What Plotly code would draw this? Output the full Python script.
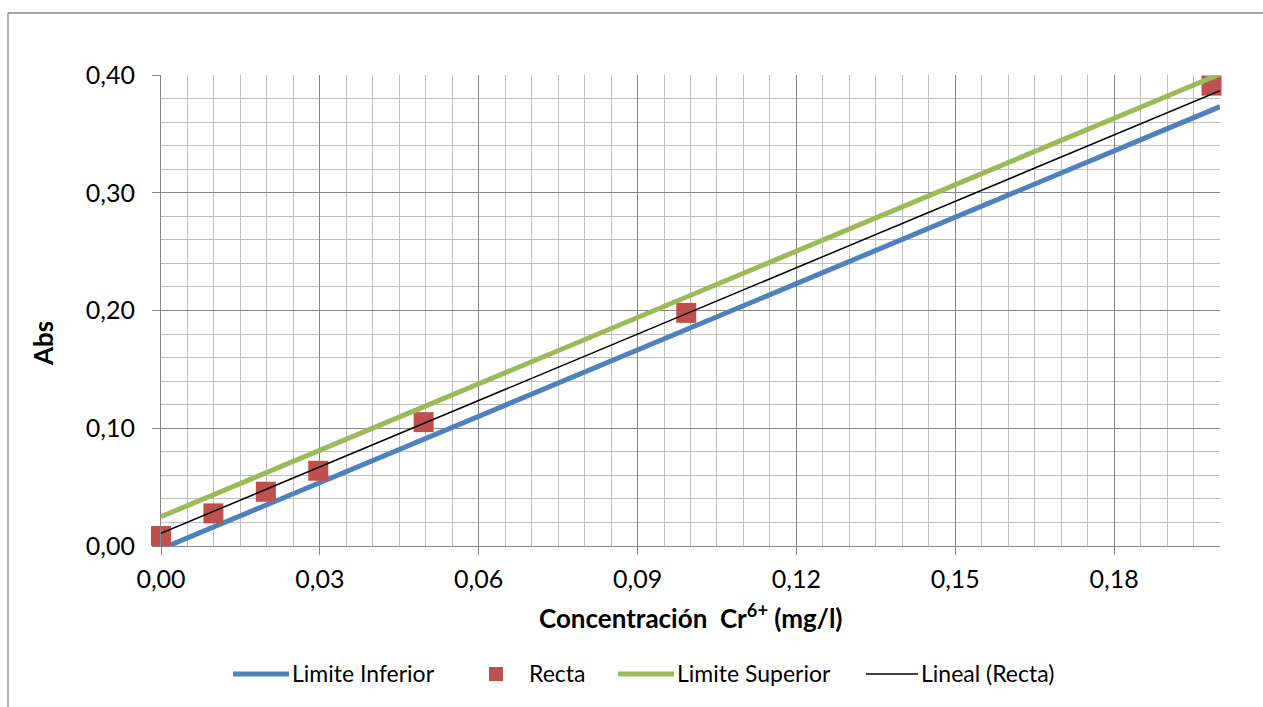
import plotly.graph_objects as go

# ---------------- data ----------------
conc = [0.0, 0.0099, 0.0198, 0.0297, 0.0496, 0.0992, 0.1984]
abs_recta = [0.0085, 0.0277, 0.0461, 0.0639, 0.1052, 0.1980, 0.3910]

limit_x = [0.0, 0.2]
lim_inf = [-0.0025, 0.3731]
lim_sup = [0.0249, 0.4008]

trend_x = [0.0, 0.2]
trend_y = [0.0108, 0.3867]

x_tick_vals = [0.00, 0.03, 0.06, 0.09, 0.12, 0.15, 0.18]
x_tick_text = ["0,00", "0,03", "0,06", "0,09", "0,12", "0,15", "0,18"]
y_tick_vals = [0.0, 0.1, 0.2, 0.3, 0.4]
y_tick_text = ["0,00", "0,10", "0,20", "0,30", "0,40"]

names = ["Limite Inferior", "Recta", "Limite Superior", "Lineal (Recta)"]

# ---------------- style ----------------
W, H = 1263, 707
ML, MR, MT, MB = 161, 43, 75, 161
PW, PH = W - ML - MR, H - MT - MB
BLUE, RED, GREEN, BLACK = "#4F81BD", "#C0504D", "#9BBB59", "#000000"
MAJOR, MINOR = "#878787", "#BFBFBF"
FONT = "Lato, Carlito, Calibri, 'Liberation Sans', sans-serif"


def px2x(px):
    return (px - ML) / PW


def px2y(py):
    return (H - MB - py) / PH


fig = go.Figure()
fig.add_trace(go.Scatter(x=limit_x, y=lim_inf, mode="lines", name=names[0],
                         line=dict(color=BLUE, width=5)))
fig.add_trace(go.Scatter(x=conc, y=abs_recta, mode="markers", name=names[1],
                         marker=dict(symbol="square", size=20, color=RED),
                         cliponaxis=False))
fig.add_trace(go.Scatter(x=limit_x, y=lim_sup, mode="lines", name=names[2],
                         line=dict(color=GREEN, width=5)))
fig.add_trace(go.Scatter(x=trend_x, y=trend_y, mode="lines", name=names[3],
                         line=dict(color=BLACK, width=1.5)))

axis_common = dict(
    showline=True, linecolor=MAJOR, linewidth=1,
    ticks="outside", ticklen=8, tickcolor=MAJOR, tickwidth=1,
    showgrid=True, gridcolor=MAJOR, gridwidth=1,
    zeroline=False, fixedrange=True,
    tickfont=dict(family=FONT, size=25, color="black"),
)

fig.update_xaxes(range=[0, 0.2], tickmode="array", tickvals=x_tick_vals,
                 ticktext=x_tick_text,
                 minor=dict(dtick=0.005, tick0=0, showgrid=True,
                            gridcolor=MINOR, gridwidth=1, ticks=""),
                 ticklabelstandoff=3, **axis_common)
fig.update_yaxes(range=[0, 0.4], tickmode="array", tickvals=y_tick_vals,
                 ticktext=y_tick_text,
                 minor=dict(dtick=0.02, tick0=0, showgrid=True,
                            gridcolor=MINOR, gridwidth=1, ticks=""),
                 ticklabelstandoff=12, **axis_common)

shapes = []
annotations = []

# outer chart border (left and top visible)
shapes.append(dict(type="line", xref="paper", yref="paper",
                   x0=px2x(8), y0=px2y(13), x1=px2x(1264), y1=px2y(13),
                   line=dict(color=MAJOR, width=1.3)))
shapes.append(dict(type="line", xref="paper", yref="paper",
                   x0=px2x(8), y0=px2y(13), x1=px2x(8), y1=px2y(708),
                   line=dict(color=MAJOR, width=1.3)))

# axis titles
annotations.append(dict(xref="paper", yref="paper", x=px2x(690.5), y=px2y(616),
                        xanchor="center", yanchor="middle", showarrow=False,
                        text="<b>Concentración\u00a0 Cr<sup>6+</sup> (mg/l)</b>",
                        font=dict(family=FONT, size=26, color="black")))
annotations.append(dict(xref="paper", yref="paper", x=px2x(43), y=px2y(344),
                        xanchor="center", yanchor="middle", showarrow=False,
                        textangle=-90, text="<b>Abs</b>",
                        font=dict(family=FONT, size=26, color="black")))

# manual legend
LEG_Y = 674
legend_items = [
    ("line", BLUE, 5, 233, 289, 292, names[0]),
    ("square", RED, 0, 496, 496, 529, names[1]),
    ("line", GREEN, 5, 618, 674, 677, names[2]),
    ("line", BLACK, 1.3, 866, 918, 921, names[3]),
]
for kind, color, lw, sx0, sx1, tx, label in legend_items:
    if kind == "line":
        shapes.append(dict(type="line", xref="paper", yref="paper",
                           x0=px2x(sx0), y0=px2y(LEG_Y), x1=px2x(sx1), y1=px2y(LEG_Y),
                           line=dict(color=color, width=lw)))
    else:
        shapes.append(dict(type="rect", xref="paper", yref="paper",
                           x0=px2x(sx0 - 7), y0=px2y(LEG_Y + 7),
                           x1=px2x(sx0 + 7), y1=px2y(LEG_Y - 7),
                           fillcolor=color, line=dict(width=0)))
    annotations.append(dict(xref="paper", yref="paper", x=px2x(tx), y=px2y(LEG_Y - 1),
                            xanchor="left", yanchor="middle", showarrow=False,
                            text=label, xshift=-2,
                            font=dict(family=FONT, size=23, color="black")))

fig.update_layout(
    width=W, height=H, autosize=False,
    margin=dict(l=ML, r=MR, t=MT, b=MB, pad=0),
    paper_bgcolor="white", plot_bgcolor="white",
    showlegend=False,
    shapes=shapes, annotations=annotations,
    font=dict(family=FONT, color="black"),
)

fig.write_html("out.html")
